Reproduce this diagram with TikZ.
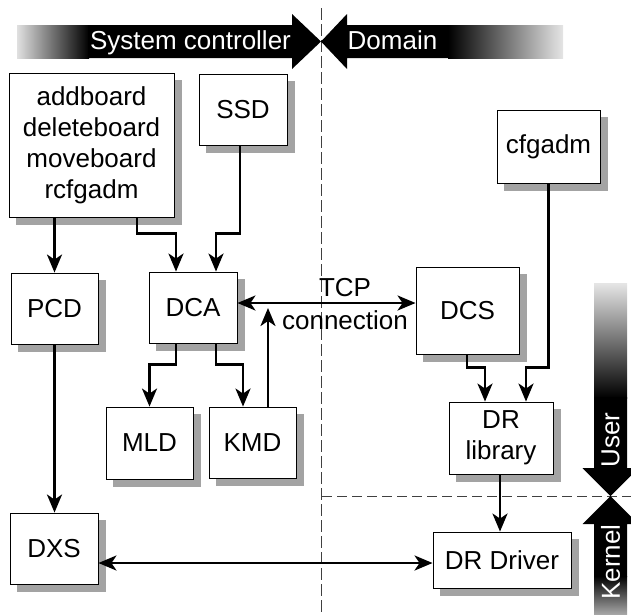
\documentclass[tikz,border=0pt]{standalone}
\usepackage{fontspec}
\setmainfont{Liberation Sans}
\usetikzlibrary{arrows.meta}
\definecolor{shadowgray}{RGB}{163,163,163}
\begin{document}
\begin{tikzpicture}[x=1pt,y=-1pt,
  box/.style={draw,line width=0.9pt,fill=white,inner sep=0pt,align=center,
    font=\fontsize{26}{31}\selectfont},
  shadowbox/.style={fill=shadowgray,draw=shadowgray,line width=0.5pt},
  >={Stealth[length=18pt,width=15pt,inset=5pt]},
  conn/.style={line width=2.6pt,->},
  conn2/.style={line width=2.6pt,<->},
  sep/.style={line width=0.9pt,draw=black!75},
  band/.style={fill=black},
  bandtext/.style={text=white,font=\fontsize{26}{31}\selectfont,inner sep=0pt}]
\path[use as bounding box] (0,0) rectangle (631,614);

% separators
\draw[sep,dash pattern=on 12pt off 4pt] (321,8) -- (321,614);
\draw[sep,dash pattern=on 10pt off 5pt] (322,496) -- (631,496);

% top banner
\shade[left color=black!12,right color=black] (17,25) rectangle (89,58);
\fill[band] (88,25) -- (292,25) -- (292,14) -- (321,41.5) -- (292,69) -- (292,58) -- (88,58) -- cycle;
\fill[band] (449,25) -- (347,25) -- (347,14) -- (321,41.5) -- (347,69) -- (347,58) -- (449,58) -- cycle;
\shade[left color=black,right color=black!10] (448,25) rectangle (563,58);
\node[bandtext,anchor=base] (sc) at (190.5,49) {System controller};
\node[bandtext,anchor=base] (dom) at (392.5,49) {Domain};

% right banner
\begin{scope}
\clip (0,0) rectangle (631,614);
\shade[top color=black!10,bottom color=black] (594,283) rectangle (627,398);
\fill[band] (594,397) -- (594,468) -- (582.5,468) -- (610.5,496) -- (638.5,468) -- (627,468) -- (627,397) -- cycle;
\fill[band] (594,577) -- (594,524) -- (582.5,524) -- (610.5,496) -- (638.5,524) -- (627,524) -- (627,577) -- cycle;
\shade[top color=black,bottom color=black!35] (594,576) rectangle (627,614);
\end{scope}
\node[bandtext,rotate=90] (user) at (610.5,440) {User};
\node[bandtext,rotate=90] (kernel) at (610.5,562) {Kernel};

% drop shadows of the boxes (offset 7 right, 7 down)
\path[shadowbox] (16,80) rectangle (181,224);
\path[shadowbox] (206,81) rectangle (294,152);
\path[shadowbox] (504,117) rectangle (607,190);
\path[shadowbox] (18,280) rectangle (105,351);
\path[shadowbox] (156,279) rectangle (244,350);
\path[shadowbox] (423,274) rectangle (526,361);
\path[shadowbox] (113,414) rectangle (200,486);
\path[shadowbox] (216,414) rectangle (303,485);
\path[shadowbox] (456,409) rectangle (560,481);
\path[shadowbox] (17,520) rectangle (105,591);
\path[shadowbox] (440,539) rectangle (578,595);

% boxes
\node[box,minimum width=165pt,minimum height=144pt] (cmds) at (91.5,145) {addboard\\deleteboard\\moveboard\\rcfgadm};
\node[box,minimum width=88pt,minimum height=71pt] (SSD) at (243,109.5) {SSD};
\node[box,minimum width=103pt,minimum height=73pt] (cfg) at (548.5,146.5) {cfgadm};
\node[box,minimum width=87pt,minimum height=71pt] (PCD) at (54.5,308.5) {PCD};
\node[box,minimum width=88pt,minimum height=71pt] (DCA) at (193,307.5) {DCA};
\node[box,minimum width=103pt,minimum height=87pt] (DCS) at (467.5,310.5) {DCS};
\node[box,minimum width=87pt,minimum height=72pt] (MLD) at (149.5,443) {MLD};
\node[box,minimum width=87pt,minimum height=71pt] (KMD) at (252.5,442.5) {KMD};
\node[box,minimum width=104pt,minimum height=72pt] (DRlib) at (501,438) {DR\\library};
\node[box,minimum width=88pt,minimum height=71pt] (DXS) at (54,548.5) {DXS};
\node[box,minimum width=138pt,minimum height=56pt] (DRD) at (502,560) {DR Driver};

% label
\node[font=\fontsize{26}{33}\selectfont,align=center,inner sep=0pt] (tcp) at (345,304.5) {TCP\\connection};

% helper coordinates
\coordinate (tcpY) at (0,303);
\coordinate (kmdtip) at (268,308);
\coordinate (dxsY) at (0,563);
\coordinate (cmdsR) at ([xshift=45.5pt]cmds.south);
\coordinate (ssdO) at ([xshift=-3pt]SSD.south);
\coordinate (dcaL) at ([xshift=-17pt]DCA.north);
\coordinate (dcaR) at ([xshift=23pt]DCA.north);
\coordinate (dcaBL) at ([xshift=-17pt]DCA.south);
\coordinate (dcaBR) at ([xshift=23pt]DCA.south);
\coordinate (kmdIn) at ([xshift=-9.5pt]KMD.north);
\coordinate (kmdOut) at ([xshift=15.5pt]KMD.north);
\coordinate (dcsO) at ([xshift=-0.5pt]DCS.south);
\coordinate (libL) at ([xshift=-16pt]DRlib.north);
\coordinate (libR) at ([xshift=25pt]DRlib.north);
\coordinate (libO) at ([xshift=-1pt]DRlib.south);

% connectors
\draw[conn] (PCD.north |- cmds.south) -- (PCD.north);
\draw[conn] (PCD.south) -- (PCD.south |- DXS.north);
\draw[conn] (cmdsR) -- ++(0,16) -| (dcaL);
\draw[conn] (ssdO) -- ++(0,88) -| (dcaR);
\draw[conn] (dcaBL) -- ++(0,21) -| (MLD.north);
\draw[conn] (dcaBR) -- ++(0,21) -| (kmdIn);
\draw[conn] (kmdOut) -- (kmdOut |- kmdtip);
\draw[conn2] (DCA.east |- tcpY) -- (DCS.west |- tcpY);
\draw[conn] (dcsO) -- ++(0,13) -| (libL);
\draw[conn] (cfg.south) -- ++(0,184) -| (libR);
\draw[conn] (libO) -- (libO |- DRD.north);
\draw[conn2] (DXS.east |- dxsY) -- (DRD.west |- dxsY);
\end{tikzpicture}
\end{document}
